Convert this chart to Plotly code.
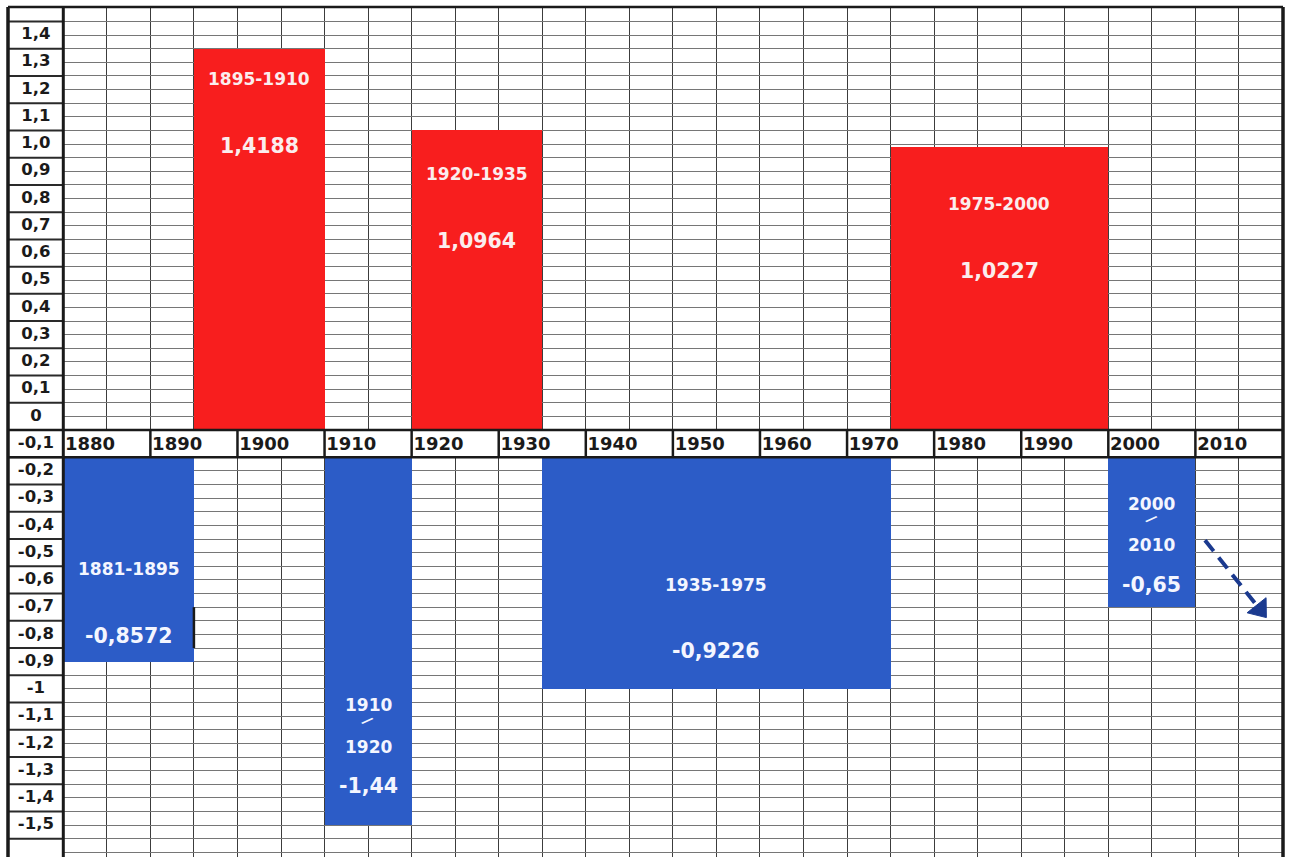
import plotly.graph_objects as go

# ---------------- data ----------------
periods = ["1881-1895", "1895-1910", "1910-1920", "1920-1935", "1935-1975", "1975-2000", "2000-2010"]
period_lines = [["1881-1895"], ["1895-1910"], ["1910", "/", "1920"], ["1920-1935"],
                ["1935-1975"], ["1975-2000"], ["2000", "/", "2010"]]
value_labels = ["-0,8572", "1,4188", "-1,44", "1,0964", "-0,9226", "1,0227", "-0,65"]
values = [-0.8572, 1.4188, -1.44, 1.0964, -0.9226, 1.0227, -0.65]
bar_start = [1880, 1895, 1910, 1920, 1935, 1975, 2000]
bar_end = [1895, 1910, 1920, 1935, 1975, 2000, 2010]
bar_extent = [-0.90, 1.35, -1.50, 1.05, -1.00, 0.99, -0.70]   # drawn bar ends

decades = [1880, 1890, 1900, 1910, 1920, 1930, 1940, 1950, 1960, 1970, 1980, 1990, 2000, 2010]
decade_labels = [str(d) for d in decades]

y_ticks = [1.4, 1.3, 1.2, 1.1, 1.0, 0.9, 0.8, 0.7, 0.6, 0.5, 0.4, 0.3, 0.2, 0.1, 0.0,
           -0.1, -0.2, -0.3, -0.4, -0.5, -0.6, -0.7, -0.8, -0.9, -1.0,
           -1.1, -1.2, -1.3, -1.4, -1.5]
y_tick_labels = ["1,4", "1,3", "1,2", "1,1", "1,0", "0,9", "0,8", "0,7", "0,6", "0,5", "0,4",
                 "0,3", "0,2", "0,1", "0", "-0,1", "-0,2", "-0,3", "-0,4", "-0,5", "-0,6",
                 "-0,7", "-0,8", "-0,9", "-1", "-1,1", "-1,2", "-1,3", "-1,4", "-1,5"]

arrow_x = [2011.1, 2017.4]
arrow_y = [-0.454, -0.708]

# ---------------- layout / style ----------------
RED = "#F81E1E"
BLUE = "#2C5CC7"
NAVY = "#1B3A8F"
FONT = "DejaVu Sans"
X0, X1 = 1873.65, 2020.06
Y0, Y1 = -1.617, 1.503
POS_BASE, NEG_BASE = -0.05, -0.15

# label text positions inside each bar (period lines ..., value)
text_y = [[-0.560, -0.805], [1.237, 0.993], [-1.060, -1.117, -1.213, -1.356], [0.890, 0.644],
          [-0.617, -0.861], [0.780, 0.535], [-0.322, -0.376, -0.470, -0.617]]

fig = go.Figure()

mid = [(s + e) / 2 for s, e in zip(bar_start, bar_end)]
wid = [e - s for s, e in zip(bar_start, bar_end)]
base = [POS_BASE if v > 0 else NEG_BASE for v in values]
height = [ext - b for ext, b in zip(bar_extent, base)]
colors = [RED if v > 0 else BLUE for v in values]

fig.add_trace(go.Bar(x=mid, y=height, base=base, width=wid,
                     marker=dict(color=colors, line=dict(width=0)),
                     customdata=periods, hovertemplate="%{customdata}<extra></extra>"))

# y labels in the left column
fig.add_trace(go.Scatter(x=[1876.85] * len(y_ticks), y=y_ticks, text=y_tick_labels, mode="text",
                         textposition="middle center", hoverinfo="skip",
                         textfont=dict(family=FONT, size=16.5, color="#1a1a1a", weight="bold")))
# decade labels in axis row
fig.add_trace(go.Scatter(x=[d + 0.2 for d in decades], y=[-0.105] * len(decades), text=decade_labels,
                         mode="text", textposition="middle right", hoverinfo="skip",
                         textfont=dict(family=FONT, size=18, color="#1a1a1a", weight="bold")))
# dashed arrow
fig.add_trace(go.Scatter(x=arrow_x, y=arrow_y, mode="lines", hoverinfo="skip",
                         line=dict(color=NAVY, width=4, dash="14px,8px")))
fig.add_trace(go.Scatter(x=arrow_x, y=arrow_y, mode="markers", hoverinfo="skip",
                         marker=dict(symbol=["circle", "triangle-up"], size=[0, 21], color=NAVY,
                                     opacity=1, angleref="previous",
                                     line=dict(width=1, color=NAVY))))

annotations = []
for i, v in enumerate(values):
    tc = "#FBEDED" if v > 0 else "#F4F6FF"
    lines = period_lines[i]
    ys = text_y[i]
    for j, t in enumerate(lines):
        if t == "/":
            annotations.append(dict(x=mid[i], y=ys[j], text=t, showarrow=False, textangle=48,
                                    font=dict(family=FONT, size=14, color=tc, weight="bold")))
        else:
            annotations.append(dict(x=mid[i], y=ys[j], text=t, showarrow=False,
                                    font=dict(family=FONT, size=17, color=tc, weight="bold")))
    annotations.append(dict(x=mid[i], y=ys[-1], text=value_labels[i], showarrow=False,
                            font=dict(family=FONT, size=20.5, color=tc, weight="bold")))

shapes = []
# white label column and axis row, above gridlines but below traces
shapes.append(dict(type="rect", x0=X0, x1=1880, y0=Y0, y1=Y1, fillcolor="white",
                   line=dict(width=0), layer="between"))
shapes.append(dict(type="rect", x0=1880, x1=X1, y0=NEG_BASE, y1=POS_BASE, fillcolor="white",
                   line=dict(width=0), layer="between"))
# label column row borders
for yt in y_ticks + [-1.6]:
    shapes.append(dict(type="line", x0=X0, x1=1880, y0=yt + 0.05, y1=yt + 0.05,
                       line=dict(color="#2a2a2a", width=2), layer="above"))
# axis row borders
for yb in (POS_BASE, NEG_BASE):
    shapes.append(dict(type="line", x0=X0, x1=X1, y0=yb, y1=yb,
                       line=dict(color="#1a1a1a", width=2.5), layer="above"))
for d in decades[1:]:
    shapes.append(dict(type="line", x0=d, x1=d, y0=NEG_BASE, y1=POS_BASE,
                       line=dict(color="#1a1a1a", width=2.5), layer="above"))
# label column right border
shapes.append(dict(type="line", x0=1880, x1=1880, y0=Y0, y1=Y1,
                   line=dict(color="#1a1a1a", width=3), layer="above"))
# scan mark at right edge of first bar
shapes.append(dict(type="line", x0=1895, x1=1895, y0=-0.70, y1=-0.85,
                   line=dict(color="#1a1a1a", width=2.5), layer="above"))
# outer border
shapes.append(dict(type="line", xref="paper", yref="paper", x0=0, x1=0, y0=0, y1=1,
                   line=dict(color="#1a1a1a", width=3.5), layer="above"))
shapes.append(dict(type="line", xref="paper", yref="paper", x0=1, x1=1, y0=0, y1=1,
                   line=dict(color="#1a1a1a", width=3.5), layer="above"))
shapes.append(dict(type="line", xref="paper", yref="paper", x0=0, x1=1, y0=1, y1=1,
                   line=dict(color="#1a1a1a", width=2.5), layer="above"))

x_grid = list(range(1880, 2021, 5))
y_grid = [round(-1.6 + 0.05 * k, 2) for k in range(62)]

fig.update_layout(
    width=1290, height=857,
    margin=dict(l=8, r=7, t=7, b=0, pad=0),
    paper_bgcolor="white", plot_bgcolor="white",
    showlegend=False, bargap=0,
    xaxis=dict(range=[X0, X1], tickvals=x_grid, showticklabels=False, ticks="",
               showgrid=True, gridcolor="#3c3c3c", gridwidth=1, zeroline=False, showline=False,
               fixedrange=True),
    yaxis=dict(range=[Y0, Y1], tickvals=y_grid, showticklabels=False, ticks="",
               showgrid=True, gridcolor="#767676", gridwidth=1, zeroline=False, showline=False,
               fixedrange=True),
    annotations=annotations,
    shapes=shapes,
)

fig.write_html("out.html", config={"displayModeBar": False},
               post_script="document.body.style.margin='0';document.body.style.overflow='hidden';")
